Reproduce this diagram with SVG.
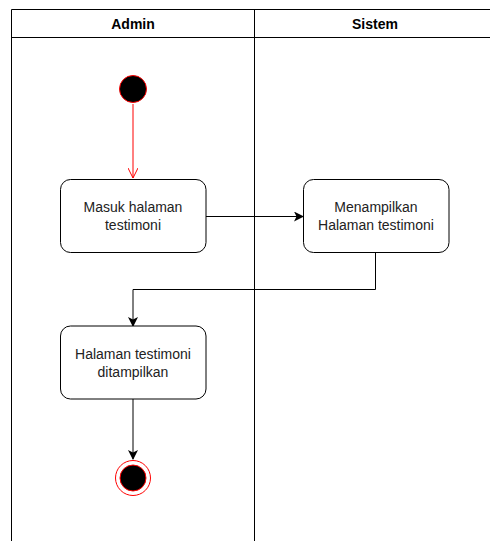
<svg xmlns="http://www.w3.org/2000/svg" width="490" height="541" viewBox="0 0 490 541">
<style>
.lane{fill:none;stroke:#000;stroke-width:1}
.hdr{font-family:"Liberation Sans",Arial,sans-serif;font-size:14px;font-weight:bold;fill:#000;text-anchor:middle}
.box{fill:#fff;stroke:#000;stroke-width:1}
.lbl{font-family:"Liberation Sans",Arial,sans-serif;font-size:14px;fill:#222;text-anchor:middle}
.edge{fill:none;stroke:#000;stroke-width:1}
</style>
<defs>
<marker id="ah" viewBox="0 0 10 10" refX="9" refY="5" markerWidth="10" markerHeight="10" markerUnits="userSpaceOnUse" orient="auto">
<path d="M0,0 L10,5 L0,10 L2.5,5 Z" fill="#000"/>
</marker>
<marker id="ahr" viewBox="0 0 10 10" refX="10" refY="5" markerWidth="10" markerHeight="10" markerUnits="userSpaceOnUse" orient="auto">
<path d="M0,0 L10,5 L0,10" fill="none" stroke="#ff0000" stroke-width="1"/>
</marker>
</defs>
<rect width="490" height="541" fill="#fff"/>
<g id="pool">
<path class="lane" d="M495,9.5 H11.5 V545 M11.5,37.5 H495 M254.5,9.5 V545"/>
<text class="hdr" x="133" y="29">Admin</text>
<text class="hdr" x="375" y="29">Sistem</text>
</g>
<g id="connectors">
<path d="M133,104 V178" fill="none" stroke="#ff0000" stroke-width="1" marker-end="url(#ahr)"/>
<path class="edge" d="M206,216.5 H303" marker-end="url(#ah)"/>
<path class="edge" d="M375.5,253 V289.5 H133 V326" marker-end="url(#ah)"/>
<path class="edge" d="M133,399 V459" marker-end="url(#ah)"/>
</g>
<g id="start">
<circle cx="133" cy="89" r="13.5" fill="#000" stroke="#ff0000" stroke-width="1"/>
</g>
<g id="n1">
<rect class="box" x="60.5" y="179.5" width="145.5" height="73" rx="10"/>
<text class="lbl" x="133" y="212">Masuk halaman</text>
<text class="lbl" x="133" y="230">testimoni</text>
</g>
<g id="n2">
<rect class="box" x="303.5" y="179.5" width="145.5" height="73" rx="10"/>
<text class="lbl" x="376" y="212">Menampilkan</text>
<text class="lbl" x="376" y="230">Halaman testimoni</text>
</g>
<g id="n3">
<rect class="box" x="60.5" y="326" width="145.5" height="73" rx="10"/>
<text class="lbl" x="133" y="359">Halaman testimoni</text>
<text class="lbl" x="133" y="377">ditampilkan</text>
</g>
<g id="end">
<circle cx="133" cy="478" r="17.5" fill="#fff" stroke="#ff0000" stroke-width="1"/>
<circle cx="133" cy="478" r="13" fill="#000" stroke="#ff0000" stroke-width="1"/>
</g>
</svg>
